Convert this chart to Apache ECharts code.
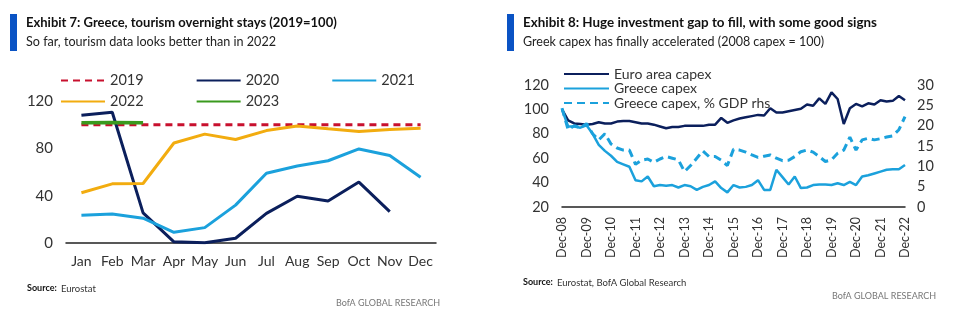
<!DOCTYPE html>
<html>
<head>
<meta charset="utf-8">
<script src="https://cdn.jsdelivr.net/npm/echarts@6/dist/echarts.min.js"></script>
<style>
  html, body { margin: 0; padding: 0; background: #fff; }
  #chart { width: 955px; height: 325px; }
</style>
</head>
<body>
<div id="chart"></div>
<script>
// ---- Exhibit 7: tourism overnight stays, index 2019 = 100 ----
const months = ['Jan', 'Feb', 'Mar', 'Apr', 'May', 'Jun', 'Jul', 'Aug', 'Sep', 'Oct', 'Nov', 'Dec'];
const stays2019 = [100, 100, 100, 100, 100, 100, 100, 100, 100, 100, 100, 100];
const stays2020 = [108, 110.5, 25.5, 1, 0.3, 4, 25, 39.5, 35.5, 51.5, 26.5, null];
const stays2021 = [23.5, 24.5, 21, 9, 13, 32, 59, 65, 69.5, 79.5, 74, 55.5];
const stays2022 = [42.5, 50, 50.3, 84.5, 92, 87.5, 95, 98.8, 96.5, 94.3, 96, 97];
const stays2023 = [101.7, 101.8, 101.7, null, null, null, null, null, null, null, null, null];
const monthTicks = [0, 40, 80, 120];

// ---- Exhibit 8: capex, index 2008 = 100 (quarterly) ----
const capexYears = ['08', '09', '10', '11', '12', '13', '14', '15', '16', '17', '18', '19', '20', '21', '22'];
const quarterMonths = ['Mar', 'Jun', 'Sep', 'Dec'];
const euroCapex = [100, 91, 88.5, 88, 87.5, 88, 89.5, 88.5, 88.5, 90, 90.5, 90.5, 89.5, 88.5, 88.5, 87.5,
  86, 84.5, 85.5, 85.5, 86.5, 86.5, 86.5, 86.5, 87.5, 87.5, 93, 89, 91, 92.5, 93.5, 94.5,
  95.5, 95, 101, 97.5, 97.5, 98.5, 99.5, 100.5, 104, 103, 109, 104.5, 114, 108.5, 88, 101,
  104.5, 102.5, 105, 104, 107.5, 106.5, 107, 111, 107.5];
const greeceCapex = [100, 86, 86, 85, 87, 80, 71, 66, 62, 57, 55, 53, 42, 41, 45, 37,
  38, 37.5, 38, 36, 38, 37, 34, 36.5, 38, 41, 35.5, 32, 38, 36, 36.5, 38,
  42, 34, 34, 50.5, 44.5, 38.5, 45, 35.5, 36, 38, 38.5, 38.5, 38, 39.5, 38, 40.5,
  38, 45, 46, 47.5, 49, 50.5, 51, 51, 54.5];
const greeceCapexGdp = [24.3, 19, 20, 19.5, 20.5, 18, 16.5, 18, 15.5, 14.5, 14, 14, 10.5, 11.5, 11.8, 11,
  11.8, 12.4, 12, 11.6, 8.7, 10.2, 12, 13.8, 12.4, 12.4, 11.5, 10.2, 14.2, 14, 13.5, 12.8,
  12.2, 12.5, 12.8, 12, 11.4, 11.5, 12.4, 13.6, 14, 13.5, 12.4, 11.2, 11.6, 13.2, 14, 17.2,
  14, 16.5, 16.9, 16.5, 16.8, 17.2, 17.5, 19, 22.2];

// quarterly category labels from Dec-08 to Dec-22
const quarters = ['Dec-08'];
for (let y = 1; y < capexYears.length; y++) {
  quarterMonths.forEach(m => quarters.push(m + '-' + capexYears[y]));
}

const FONT = 'Lato, "Noto Sans", sans-serif';
const NAVY = '#0b1f5c';
const SKY = '#1ba1dc';
const RED = '#c8102e';
const GOLD = '#f2ac0f';
const GREEN = '#3a9a1e';
const TXT = '#333333';

const chart = echarts.init(document.getElementById('chart'), null, { renderer: 'canvas' });

function headerBlock(x, title, subtitle, tSize, sSize) {
  return [
    { type: 'rect', left: x, top: 14, shape: { width: 7, height: 37 }, style: { fill: '#0a53c4' } },
    { type: 'text', left: x + 16, top: 16, style: { text: title, font: 'bold ' + tSize + 'px ' + FONT, fill: '#111' } },
    { type: 'text', left: x + 16, top: 35, style: { text: subtitle, font: sSize + 'px ' + FONT, fill: '#222' } }
  ];
}
function sourceBlock(x, y, rest) {
  return [
    { type: 'text', left: x, top: y, style: { text: 'Source:', font: 'bold 9px ' + FONT, fill: '#111' } },
    { type: 'text', left: x + 34, top: y, style: { text: rest, font: '9.5px ' + FONT, fill: '#333' } }
  ];
}

// legend entries show only the series line (no marker)
const legendBase = {
  itemHeight: 12,
  itemStyle: { opacity: 0, borderWidth: 0 },
  textStyle: { color: TXT, fontFamily: FONT }
};

const lineBase = { type: 'line', symbol: 'none', smooth: false, connectNulls: false };

chart.setOption({
  animation: false,
  textStyle: { fontFamily: FONT },
  graphic: [
    ...headerBlock(10, 'Exhibit 7: Greece, tourism overnight stays (2019=100)', 'So far, tourism data looks better than in 2022', 13, 12.6),
    ...headerBlock(507, 'Exhibit 8: Huge investment gap to fill, with some good signs', 'Greek capex has finally accelerated (2008 capex = 100)', 13.4, 12.5),
    ...sourceBlock(27, 284, 'Eurostat'),
    ...sourceBlock(523, 278, 'Eurostat, BofA Global Research'),
    { type: 'text', left: 336, top: 299, style: { text: 'BofA GLOBAL RESEARCH', font: '9px ' + FONT, fill: '#777' } },
    { type: 'text', left: 832, top: 292, style: { text: 'BofA GLOBAL RESEARCH', font: '9px ' + FONT, fill: '#777' } }
  ],
  legend: [
    {
      ...legendBase,
      data: ['2019', '2020', '2021'],
      left: 55, top: 68, itemWidth: 44, itemGap: 52,
      textStyle: { ...legendBase.textStyle, fontSize: 14.5 }
    },
    {
      ...legendBase,
      data: ['2022', '2023'],
      left: 55, top: 89, itemWidth: 44, itemGap: 52,
      textStyle: { ...legendBase.textStyle, fontSize: 14.5 }
    },
    {
      ...legendBase,
      data: ['Euro area capex', 'Greece capex', 'Greece capex, % GDP rhs'],
      orient: 'vertical', left: 558, top: 62, itemWidth: 45, itemGap: 0.5,
      textStyle: { ...legendBase.textStyle, fontSize: 14 }
    }
  ],
  grid: [
    { left: 66, right: 519, top: 101, bottom: 82 },
    { left: 562, right: 50, top: 85, bottom: 118 }
  ],
  xAxis: [
    {
      gridIndex: 0, type: 'category', data: months, boundaryGap: true,
      axisLine: { lineStyle: { color: '#222', width: 1.5 } }, axisTick: { show: false },
      axisLabel: { color: TXT, fontSize: 14, margin: 11, interval: 0 }
    },
    {
      gridIndex: 1, type: 'category', data: quarters, boundaryGap: false,
      axisLine: { lineStyle: { color: '#222', width: 1.5 } }, axisTick: { show: false },
      axisLabel: { color: TXT, fontSize: 12.5, rotate: 90, margin: 10, interval: i => i % 4 === 0 }
    }
  ],
  yAxis: [
    {
      gridIndex: 0, type: 'value', min: monthTicks[0], max: monthTicks[monthTicks.length - 1], interval: 40,
      axisLine: { show: false }, axisTick: { show: false }, splitLine: { show: false },
      axisLabel: { color: TXT, fontSize: 15, margin: 13 }
    },
    {
      gridIndex: 1, type: 'value', min: 20, max: 120, interval: 20,
      axisLine: { show: false }, axisTick: { show: false }, splitLine: { show: false },
      axisLabel: { color: TXT, fontSize: 14.5, margin: 13 }
    },
    {
      gridIndex: 1, type: 'value', position: 'right', min: 0, max: 30, interval: 5,
      axisLine: { show: false }, axisTick: { show: false }, splitLine: { show: false },
      axisLabel: { color: TXT, fontSize: 14.5, margin: 12 }
    }
  ],
  series: [
    { ...lineBase, name: '2019', xAxisIndex: 0, yAxisIndex: 0, data: stays2019, color: RED,
      lineStyle: { color: RED, width: 3, type: [7, 5] } },
    { ...lineBase, name: '2020', xAxisIndex: 0, yAxisIndex: 0, data: stays2020, color: NAVY,
      lineStyle: { color: NAVY, width: 3 } },
    { ...lineBase, name: '2021', xAxisIndex: 0, yAxisIndex: 0, data: stays2021, color: SKY,
      lineStyle: { color: SKY, width: 3 } },
    { ...lineBase, name: '2022', xAxisIndex: 0, yAxisIndex: 0, data: stays2022, color: GOLD,
      lineStyle: { color: GOLD, width: 3 } },
    { ...lineBase, name: '2023', xAxisIndex: 0, yAxisIndex: 0, data: stays2023, color: GREEN,
      lineStyle: { color: GREEN, width: 3.5 } },

    { ...lineBase, name: 'Euro area capex', xAxisIndex: 1, yAxisIndex: 1, data: euroCapex, color: NAVY,
      lineStyle: { color: NAVY, width: 2.5 } },
    { ...lineBase, name: 'Greece capex', xAxisIndex: 1, yAxisIndex: 1, data: greeceCapex, color: SKY,
      lineStyle: { color: SKY, width: 2.5 } },
    { ...lineBase, name: 'Greece capex, % GDP rhs', xAxisIndex: 1, yAxisIndex: 2, data: greeceCapexGdp, color: SKY,
      lineStyle: { color: SKY, width: 3, type: [8, 5] } }
  ]
});
</script>
</body>
</html>
